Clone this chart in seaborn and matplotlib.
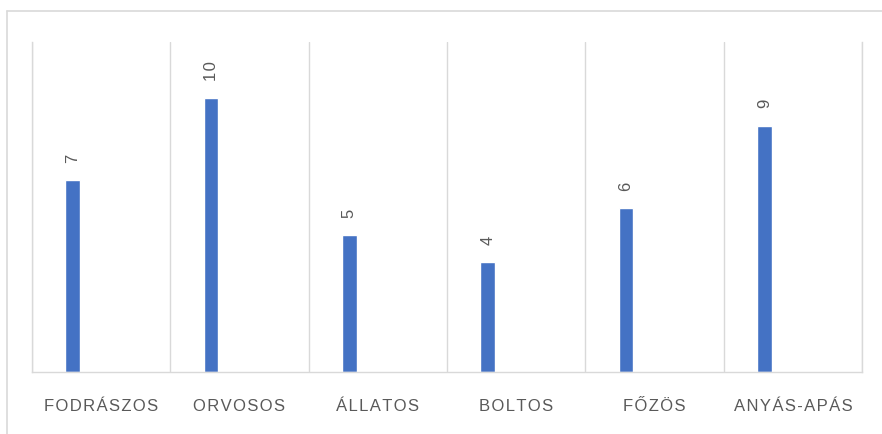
import matplotlib
matplotlib.use("Agg")
import matplotlib.pyplot as plt
import seaborn as sns
import pandas as pd

categories = ["FODRÁSZOS", "ORVOSOS", "ÁLLATOS", "BOLTOS", "FŐZÖS", "ANYÁS-APÁS"]
values = [7, 10, 5, 4, 6, 9]

df = pd.DataFrame({"kategoria": categories, "db": values})

sns.set_style("white")
plt.rcParams["font.family"] = ["Liberation Sans", "DejaVu Sans"]

fig = plt.figure(figsize=(8.82, 4.35), dpi=100)
ax = fig.add_axes([32 / 882, 62 / 435, 830 / 882, 330 / 435])

sns.barplot(data=df, x="kategoria", y="db", color="#4472C4", width=0.108,
            saturation=1, ax=ax)

# bars sit left of centre in each category cell (like Excel clustered bars)
off = 0.294
n = len(categories)
ax.set_xlim(-off, n - off)
ax.set_ylim(0, 12.05)

ax.set_xticks([i - off + 0.5 for i in range(n)])
spaced = ["\u200a".join(c) for c in categories]
ax.set_xticklabels(spaced, fontsize=12, color="#595959")
ax.tick_params(axis="x", length=0, pad=19)
ax.set_xticks([i - off for i in range(n + 1)], minor=True)
ax.tick_params(axis="x", which="minor", length=0)
ax.grid(axis="x", which="minor", color="#d9d9d9", lw=1)
ax.set_yticks([])
ax.set_xlabel("")
ax.set_ylabel("")

ax.spines["top"].set_visible(False)
for s in ["left", "right", "bottom"]:
    ax.spines[s].set_color("#d9d9d9")
    ax.spines[s].set_linewidth(1)

for cont in ax.containers:
    ax.bar_label(cont, labels=["\u200a".join(str(v)) for v in values], rotation=90,
                 padding=13, fontsize=12, color="#595959")

# outer chart frame (cut off at right and bottom)
fig.add_artist(plt.Line2D([7 / 882, 1.0], [1 - 12 / 435, 1 - 12 / 435],
                          transform=fig.transFigure, color="#d9d9d9", lw=1.2))
fig.add_artist(plt.Line2D([7 / 882, 7 / 882], [0, 1 - 12 / 435],
                          transform=fig.transFigure, color="#d9d9d9", lw=1.2))

fig.savefig("out.png", dpi=100)
